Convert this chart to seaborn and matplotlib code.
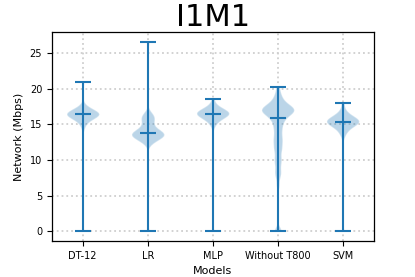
import numpy as np
import matplotlib
matplotlib.use("Agg")
import matplotlib.pyplot as plt
import seaborn as sns

models = ["DT-12", "LR", "MLP", "Without T800", "SVM"]

# network throughput samples (Mbps)
dt12 = [0, 14.6, 15.2, 15.6, 15.8, 16.0, 16.1, 16.2, 16.3, 16.3, 16.4, 16.4,
        16.4, 16.5, 16.5, 16.6, 16.6, 16.7, 16.7, 16.8, 16.9, 17.0, 17.2, 17.6, 20.9]
lr = [0, 12.4, 12.8, 12.9, 13.1, 13.2, 13.3, 13.4, 13.5, 13.6, 13.6, 13.7, 13.75,
      13.8, 13.9, 14.0, 14.1, 14.3, 14.6, 15.0, 15.4, 15.7, 15.9, 16.1, 16.3,
      16.5, 26.6]
mlp = [0, 14.9, 15.4, 15.7, 15.9, 16.1, 16.2, 16.3, 16.4, 16.5, 16.5, 16.5,
       16.6, 16.6, 16.7, 16.7, 16.8, 16.9, 17.0, 17.1, 17.3, 17.6, 18.6]
without_t800 = [0, 0, 0, 6.5, 7.8, 8.2, 8.8, 9.6, 10.0, 10.4, 11.2, 11.6, 11.9,
                12.5, 12.8, 13.1, 13.6, 14.1, 14.5, 14.9, 15.3, 15.6, 15.9,
                16.1, 16.3, 16.5, 16.6, 16.7, 16.8, 16.9, 16.95, 17.0, 17.1,
                17.2, 17.3, 17.4, 17.5, 17.6, 17.7, 17.9, 18.2, 18.5, 18.9,
                19.4, 20.3]
svm = [0, 13.5, 14.0, 14.4, 14.7, 14.9, 15.0, 15.1, 15.2, 15.3, 15.4, 15.4,
       15.5, 15.5, 15.6, 15.7, 15.8, 15.9, 16.0, 16.2, 16.5, 16.9, 18.0]

samples = [dt12, lr, mlp, without_t800, svm]

sns.set_style("ticks", {"axes.edgecolor": "black", "xtick.color": "black",
                        "ytick.color": "black", "text.color": "black",
                        "axes.labelcolor": "black"})
plt.rcParams["font.family"] = ["DejaVu Sans"]


def bandwidth(kde, h=0.6):
    return h / np.std(kde.dataset, ddof=1)


fig, ax = plt.subplots(figsize=(4.15, 2.77), dpi=100)
fig.subplots_adjust(left=0.125, right=0.9, top=0.884, bottom=0.13)

pos = np.arange(1, len(models) + 1)
ax.violinplot(samples, positions=pos, showmedians=True, bw_method=bandwidth)

ax.grid(True, linestyle=":", color="#cfcfcf", linewidth=1.3)
ax.set_axisbelow(True)
ax.set_xticks(pos)
ax.set_xticklabels(models)
ax.tick_params(labelsize=7, length=3.5, width=0.8)
for s in ax.spines.values():
    s.set_linewidth(0.9)
ax.set_xlabel("Models", fontsize=8)
ax.set_ylabel("Network (Mbps)", fontsize=8)
ax.set_title("I1M1", fontsize=22, pad=4)

fig.savefig("out.png", dpi=100)
